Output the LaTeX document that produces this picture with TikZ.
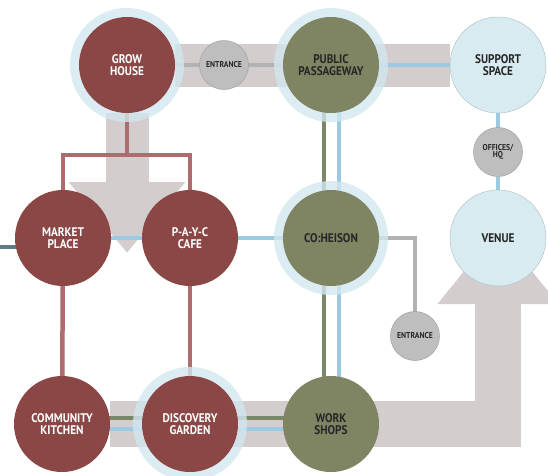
\documentclass[tikz,border=0pt]{standalone}
\usepackage{fontspec}
\setmainfont{PT Sans}[FakeStretch=0.9]
\usetikzlibrary{arrows.meta}
\definecolor{hubred}{RGB}{139,71,69}
\definecolor{hubgreen}{RGB}{127,132,98}
\definecolor{paleblue}{RGB}{216,235,241}
\definecolor{ringblue}{RGB}{210,231,239}
\definecolor{doorgray}{RGB}{190,190,190}
\definecolor{bandgray}{RGB}{211,205,205}
\definecolor{linkblue}{RGB}{156,202,226}
\definecolor{linkgreen}{RGB}{122,136,106}
\definecolor{linkred}{RGB}{174,108,110}
\definecolor{linkgray}{RGB}{178,178,178}
\definecolor{linkteal}{RGB}{94,124,132}
\pgfdeclarelayer{bands}
\pgfdeclarelayer{links}
\pgfsetlayers{bands,links,main}
\tikzset{
	hub/.style={circle, inner sep=0pt, outer sep=0pt, minimum size=96pt, align=center, font=\bfseries\fontsize{12.5}{11.5}\selectfont},
	redhub/.style={hub, fill=hubred, text=white},
	greenhub/.style={hub, fill=hubgreen, text=black!85},
	bluehub/.style={hub, fill=paleblue, draw=ringblue!85!black, line width=.5pt, text=black!85},
	ringed/.style={preaction={draw=ringblue, draw opacity=.8, line width=18pt}},
	door/.style={circle, inner sep=0pt, outer sep=0pt, minimum size=49pt, fill=doorgray, draw=doorgray!85!black, line width=.5pt, align=center, text=black!85, font=\bfseries\fontsize{8.5}{7.5}\selectfont},
	band/.style={draw=bandgray, line width=43pt},
	bluelink/.style={draw=linkblue, line width=4pt},
	greenlink/.style={draw=linkgreen, line width=4pt},
	redlink/.style={draw=linkred, line width=4.5pt},
	graylink/.style={draw=linkgray, line width=4.5pt},
	teallink/.style={draw=linkteal, line width=4pt}
}
\begin{document}
\begin{tikzpicture}[x=1pt,y=-1pt]
	\useasboundingbox (0,0) rectangle (548,475);
	\node[redhub, ringed] (grow) at (127,65) {GROW\\HOUSE};
	\node[door] (gate) at (224,65) {ENTRANCE};
	\node[greenhub, ringed] (passage) at (331,65) {PUBLIC\\PASSAGEWAY};
	\node[bluehub] (support) at (498,65) {SUPPORT\\SPACE};
	\node[door] (office) at (498,152) {OFFICES/\\HQ};
	\node[redhub] (market) at (63,238) {MARKET\\PLACE};
	\node[redhub] (cafe) at (190,238) {P-A-Y-C\\CAFE};
	\node[greenhub, ringed] (coheison) at (331,238) {CO:HEISON};
	\node[bluehub] (venue) at (498,238) {VENUE};
	\node[door] (sidegate) at (415,336) {ENTRANCE};
	\node[redhub] (kitchen) at (62,424) {COMMUNITY\\KITCHEN};
	\node[redhub, ringed] (garden) at (190,424) {DISCOVERY\\GARDEN};
	\node[greenhub] (shops) at (331,424) {WORK\\SHOPS};
	\coordinate (growtip) at (127,253);
	\coordinate (bend) at (498,424);
	\coordinate (venuetip) at (498,229);
	\coordinate (split) at (127,155);
	\coordinate (westedge) at (0,247);
	\begin{pgfonlayer}{bands}
		\draw[band] (grow) -- (support);
		\draw[band, -{Triangle[width=112pt,length=71pt]}] (grow) -- (growtip);
		\draw[band, line width=46pt, -{Triangle[width=116pt,length=75pt]}] (kitchen) -- (bend) -- (venuetip);
	\end{pgfonlayer}
	\begin{pgfonlayer}{links}
		\draw[graylink] (grow) -- (passage);
		\draw[bluelink] (passage) -- (support);
		\draw[bluelink] (support) -- (office);
		\draw[bluelink] (office) -- (venue);
		\draw[redlink] (grow) -- (split);
		\draw[redlink] (market) |- (split) -| (cafe);
		\draw[redlink] (market) -- (kitchen);
		\draw[redlink] (cafe) -- (garden);
		\draw[teallink] (westedge) -- (westedge -| market.center);
		\draw[bluelink] (market) -- (cafe);
		\draw[bluelink] (cafe) -- (coheison);
		\draw[greenlink] ([xshift=-7pt]passage.center) -- ([xshift=-7pt]shops.center);
		\draw[bluelink] ([xshift=8pt]passage.center) -- ([xshift=8pt]shops.center);
		\draw[greenlink] ([yshift=6pt]kitchen.center) -- ([yshift=6pt]shops.center);
		\draw[bluelink] ([yshift=-5pt]kitchen.center) -- ([yshift=-5pt]shops.center);
		\draw[graylink] (coheison) -| (sidegate);
	\end{pgfonlayer}
\end{tikzpicture}
\end{document}
